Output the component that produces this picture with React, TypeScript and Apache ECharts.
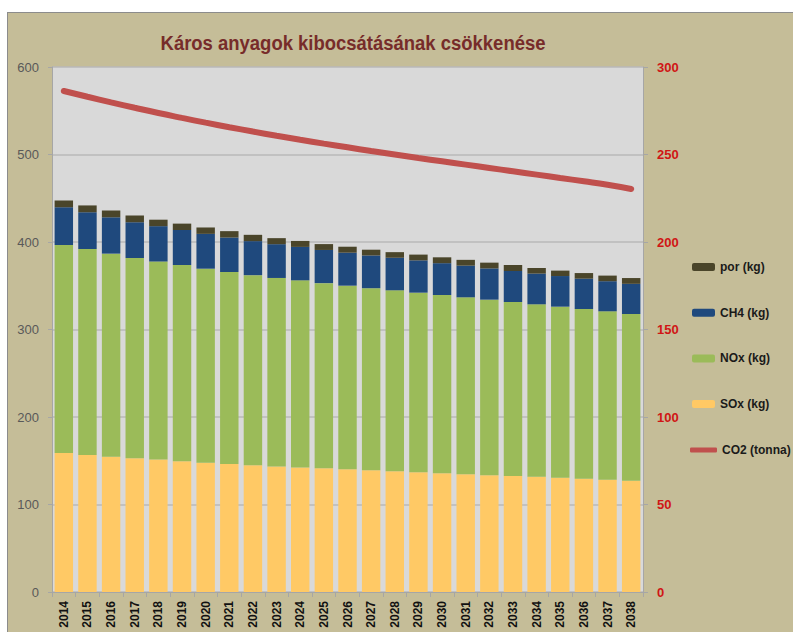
import React, { useEffect, useRef } from "react";
import * as echarts from "echarts";

const years = [
  "2014", "2015", "2016", "2017", "2018", "2019", "2020", "2021", "2022", "2023", "2024", "2025", "2026",
  "2027", "2028", "2029", "2030", "2031", "2032", "2033", "2034", "2035", "2036", "2037", "2038",
];

const sox = [
  158.9, 156.6, 154.7, 152.8, 151.4, 149.5, 147.8, 146.3, 144.8, 143.4, 142.3, 141.3, 140.2,
  139.2, 137.9, 136.8, 135.7, 134.7, 133.5, 132.6, 131.7, 130.6, 129.4, 128.3, 127.2,
];
const nox = [
  237.7, 235.4, 232.0, 228.9, 226.3, 224.2, 221.7, 219.4, 217.3, 215.5, 213.9, 211.7, 209.9,
  208.0, 206.9, 205.3, 203.7, 202.1, 200.6, 198.8, 197.1, 195.5, 194.0, 192.5, 190.5,
];
const ch4 = [
  43.0, 42.0, 41.5, 41.0, 40.4, 40.0, 39.8, 39.4, 38.9, 38.6, 38.2, 37.9, 37.7,
  37.4, 37.2, 36.9, 36.4, 36.2, 35.7, 35.5, 35.1, 35.0, 34.7, 34.4, 34.5,
];
const por = [
  7.7, 7.8, 7.8, 7.6, 7.4, 7.3, 7.3, 7.3, 7.2, 6.9, 6.8, 6.7, 6.8,
  6.6, 6.4, 6.6, 6.7, 6.6, 6.6, 6.7, 6.4, 6.2, 6.4, 6.4, 6.6,
];
const co2 = [
  286.3, 283.0, 279.8, 276.7, 273.7, 270.9, 268.2, 265.6, 263.1, 260.7, 258.4, 256.2, 254.1,
  252.0, 250.0, 248.0, 246.1, 244.2, 242.3, 240.4, 238.5, 236.6, 234.7, 232.7, 230.3,
];

const titleText = "Káros anyagok kibocsátásának csökkenése";
const barLegendNames = ["por (kg)", "CH4 (kg)", "NOx (kg)", "SOx (kg)"];
const lineLegendNames = ["CO2 (tonna)"];

export default function App() {
  const ref = useRef<HTMLDivElement>(null);

  useEffect(() => {
    if (!ref.current) return;
    const chart = echarts.init(ref.current, undefined, { renderer: "svg" });
    const axisGray = "#A6A6A6";
    const legendText = {
      color: "#1A1A1A",
      fontSize: 12,
      fontWeight: "bold",
      fontFamily: "'Liberation Sans', sans-serif",
      lineHeight: 14,
    };
    const barCommon = {
      type: "bar",
      stack: "total",
      barCategoryGap: "22%",
      yAxisIndex: 0,
    };
    chart.setOption({
      animation: false,
      backgroundColor: "#C5BD98",
      graphic: [
        {
          type: "text",
          x: 345,
          y: 30,
          scaleX: 0.88,
          style: {
            text: titleText,
            fill: "#772C2A",
            font: "bold 21px 'Liberation Sans', sans-serif",
            textAlign: "center",
            textVerticalAlign: "middle",
          },
        },
      ],
      grid: {
        left: 44,
        top: 54,
        width: 591,
        height: 525,
        show: true,
        backgroundColor: "#D9D9D9",
        borderWidth: 0,
      },
      legend: [
        {
          orient: "vertical",
          left: 684,
          top: 247,
          padding: 0,
          itemWidth: 23,
          itemHeight: 8,
          itemGap: 31.7,
          data: barLegendNames,
          textStyle: legendText,
        },
        {
          orient: "vertical",
          left: 682,
          top: 430,
          padding: 0,
          itemWidth: 27,
          itemHeight: 5,
          icon: "roundRect",
          data: lineLegendNames,
          textStyle: legendText,
        },
      ],
      xAxis: {
        type: "category",
        data: years,
        axisLine: { show: true, lineStyle: { color: axisGray, width: 1 } },
        axisTick: { show: true, length: 5, alignWithLabel: false, lineStyle: { color: axisGray } },
        axisLabel: {
          rotate: 90,
          interval: 0,
          margin: 9,
          color: "#111111",
          fontSize: 12,
          fontWeight: "bold",
          fontFamily: "'Liberation Sans', sans-serif",
        },
      },
      yAxis: [
        {
          type: "value",
          min: 0,
          max: 600,
          interval: 100,
          axisLine: { show: true, lineStyle: { color: axisGray, width: 1 } },
          axisTick: { show: true, length: 4, lineStyle: { color: axisGray } },
          splitLine: { show: true, lineStyle: { color: "#B8B8B8", width: 1.5 } },
          axisLabel: {
            margin: 13,
            color: "#595959",
            fontSize: 13,
            fontFamily: "'Liberation Sans', sans-serif",
          },
        },
        {
          type: "value",
          position: "right",
          min: 0,
          max: 300,
          interval: 50,
          axisLine: { show: true, lineStyle: { color: axisGray, width: 1 } },
          axisTick: { show: true, length: 5, lineStyle: { color: axisGray } },
          splitLine: { show: false },
          axisLabel: {
            margin: 14,
            color: "#D01515",
            fontSize: 13,
            fontWeight: "bold",
            fontFamily: "'Liberation Sans', sans-serif",
          },
        },
      ],
      series: [
        { ...barCommon, name: "SOx (kg)", data: sox, itemStyle: { color: "#FFC965" } },
        { ...barCommon, name: "NOx (kg)", data: nox, itemStyle: { color: "#9BBB59" } },
        { ...barCommon, name: "CH4 (kg)", data: ch4, itemStyle: { color: "#1F497D" } },
        { ...barCommon, name: "por (kg)", data: por, itemStyle: { color: "#4A452A" } },
        {
          type: "line",
          name: "CO2 (tonna)",
          yAxisIndex: 1,
          data: co2,
          smooth: true,
          symbol: "none",
          showSymbol: false,
          itemStyle: { color: "#C0504D" },
          lineStyle: { color: "#C0504D", width: 6, cap: "round" },
          z: 5,
        },
      ],
    });
    return () => chart.dispose();
  }, []);

  return (
    <div
      style={{
        position: "absolute",
        left: 7,
        top: 12,
        borderLeft: "1px solid #8C8C8C",
        borderTop: "1px solid #8C8C8C",
      }}
    >
      <div ref={ref} style={{ width: 785, height: 619 }} />
    </div>
  );
}
